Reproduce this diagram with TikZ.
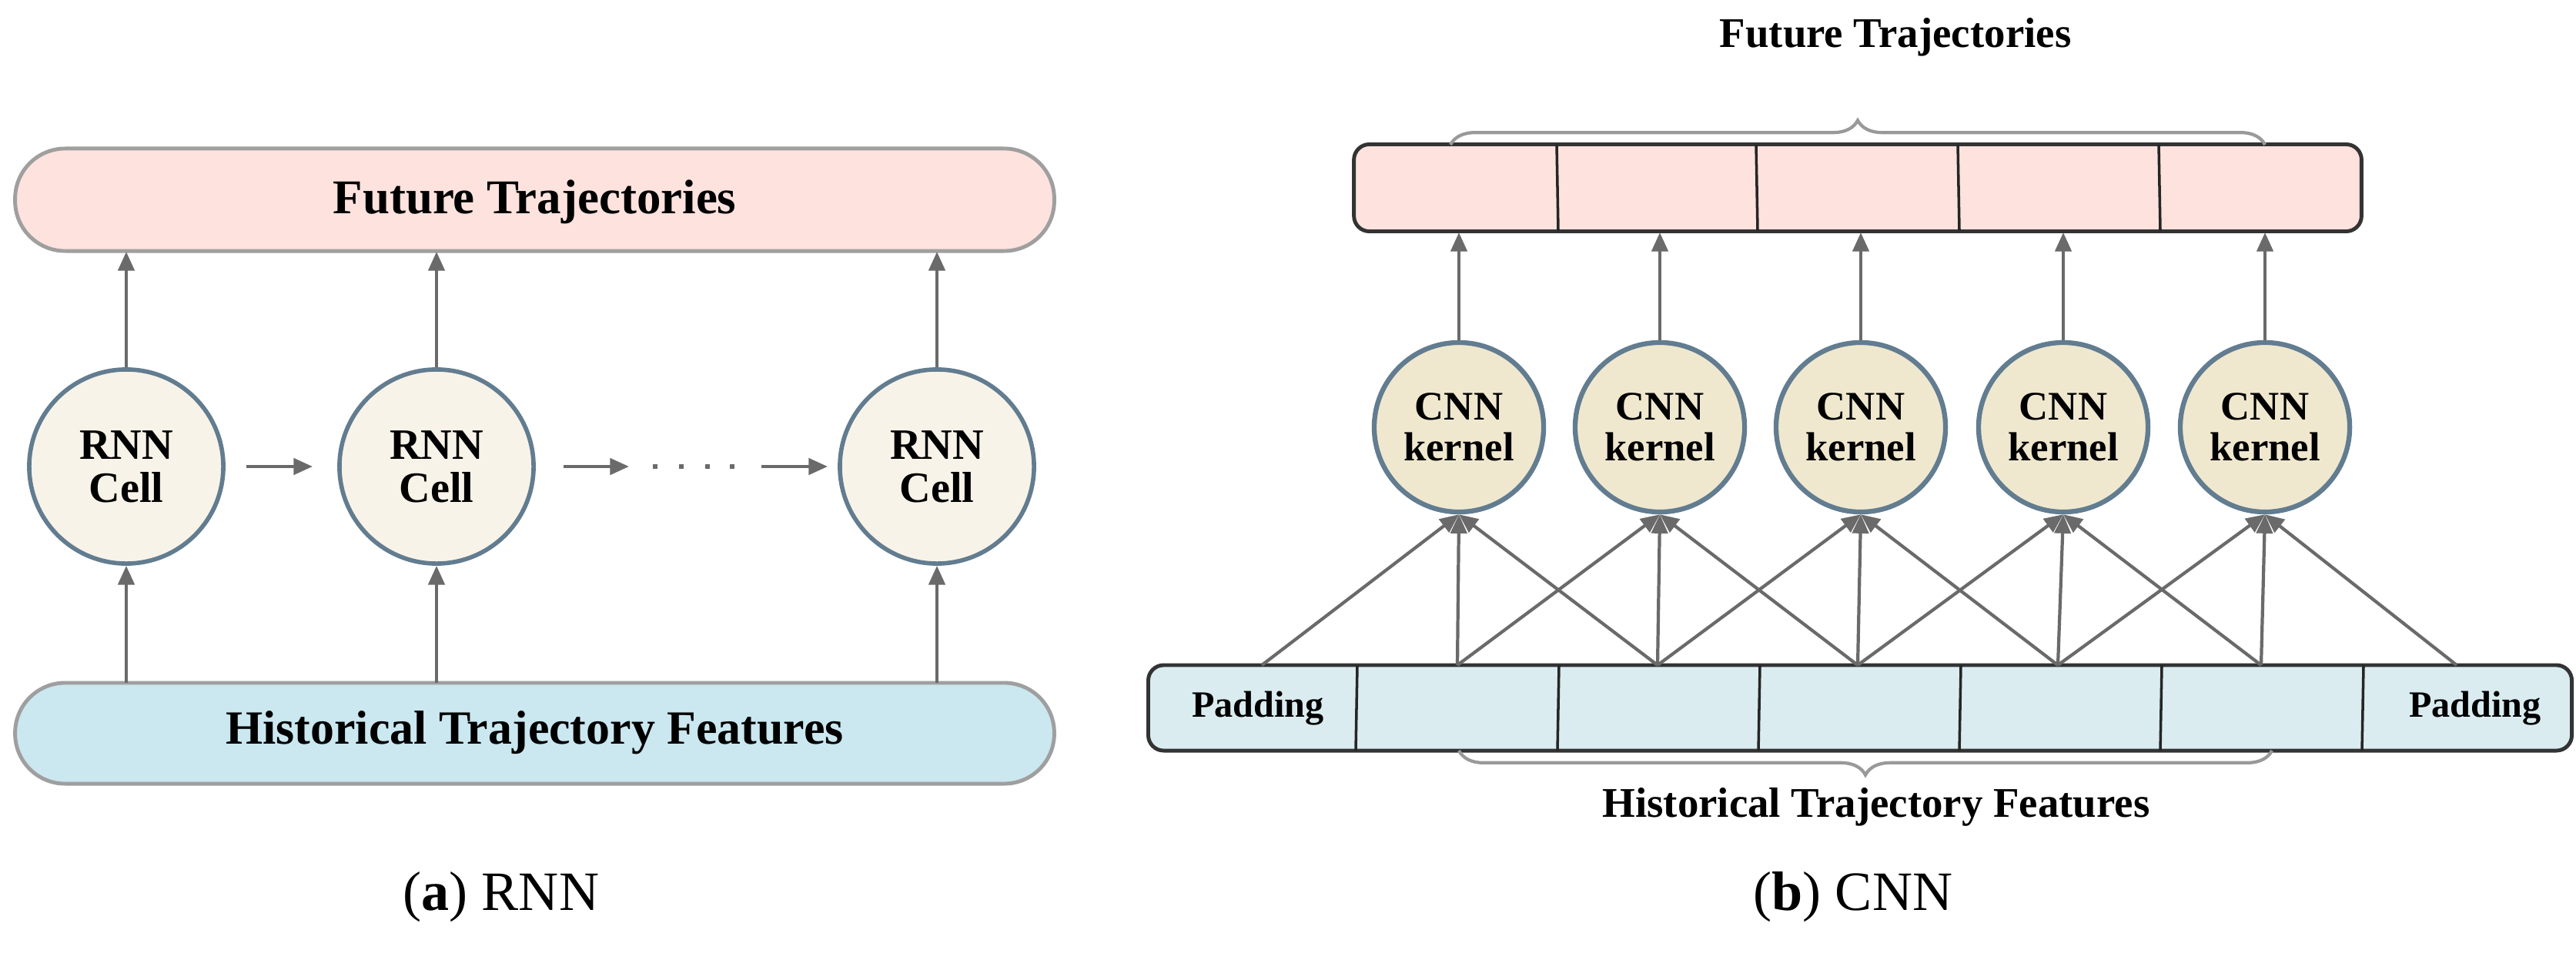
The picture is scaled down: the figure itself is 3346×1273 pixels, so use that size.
\documentclass[tikz,border=0pt]{standalone}
\usepackage{fontspec}
\setmainfont{Liberation Serif}
\usetikzlibrary{arrows.meta,decorations.pathreplacing}
\definecolor{pinkf}{HTML}{FDE2DD}
\definecolor{bluef}{HTML}{CBE7EF}
\definecolor{bluef2}{HTML}{DAECF0}
\definecolor{cellf}{HTML}{F8F3E8}
\definecolor{kernf}{HTML}{EFE8CF}
\definecolor{circd}{HTML}{627C90}
\definecolor{arr}{HTML}{6A6A6A}
\newcommand{\fs}[1]{\fontsize{#1}{#1}\selectfont\bfseries}
\begin{document}
\begin{tikzpicture}[x=0.01cm,y=-0.01cm,
  ar/.style={draw=arr,line width=1.2pt,-{Triangle[length=7pt,width=6pt]}},
  ln/.style={draw=arr,line width=1.2pt},
  cell/.style={circle,draw=circd,line width=1.6pt,fill=cellf,minimum size=2.52cm,align=center,font=\fs{16pt},inner sep=0pt},
  kern/.style={circle,draw=circd,line width=1.8pt,fill=kernf,minimum size=2.2cm,align=center,font=\fs{15pt},inner sep=0pt},
  pill/.style={draw=gray!75,line width=1.4pt,rounded corners=0.65cm,inner sep=0pt},
  brc/.style={draw=gray!80,line width=1.2pt,decorate,decoration={brace,amplitude=9pt}}]
\useasboundingbox (0,0) rectangle (3346,1273);
% ---- (a) RNN
\node[pill,fill=pinkf,minimum width=13.49cm,minimum height=1.33cm] (ft) at (694.5,259.5) {};
\node[font=\fs{17.9pt}] at (694.5,262) {Future Trajectories};
\node[pill,fill=bluef,minimum width=13.49cm,minimum height=1.31cm] (ht) at (694.5,952.5) {};
\node[font=\fs{17.6pt}] at (694.5,952) {Historical Trajectory Features};
\node[cell] (c1) at (164,606) {RNN\\Cell};
\node[cell] (c2) at (567,606) {RNN\\Cell};
\node[cell] (c3) at (1217,606) {RNN\\Cell};
\foreach \c/\x in {c1/164,c2/567,c3/1217}{
  \coordinate (b\c) at (\x,887); \coordinate (t\c) at (\x,327);
  \draw[ar] (b\c) -- (\c.south);
  \draw[ar] (\c.north) -- (t\c);}
\coordinate (h1) at (320,606); \coordinate (h2) at (406,606);
\coordinate (h3) at (732,606); \coordinate (h4) at (817,606);
\coordinate (h5) at (989,606); \coordinate (h6) at (1075,606);
\draw[ar] (h1) -- (h2); \draw[ar] (h3) -- (h4); \draw[ar] (h5) -- (h6);
\foreach \x in {851,885,919,951} \fill[arr] (\x-3,603) rectangle (\x+3,609);
\node[font=\fontsize{20.5pt}{20.5pt}\selectfont] at (651,1165) {(\textbf{a}) RNN};
% ---- (b) CNN
\node[draw=black!80,line width=1.4pt,rounded corners=0.2cm,fill=pinkf,minimum width=13.08cm,minimum height=1.13cm,inner sep=0pt] (fb) at (2413,244) {};
\foreach \x in {2022,2281,2543,2804} \draw[black!85,line width=1pt] (\x,188) -- (\x+2,300);
\node[draw=black!80,line width=1.4pt,rounded corners=0.2cm,fill=bluef2,minimum width=18.48cm,minimum height=1.11cm,inner sep=0pt] (hb) at (2416,919.5) {};
\foreach \x in {1763,2025,2286,2547,2808,3070} \draw[black!85,line width=1pt] (\x,864) -- (\x-2,975);
\node[font=\fs{13.7pt}] at (1634,920) {Padding};
\node[font=\fs{13.7pt}] at (3215,920) {Padding};
\draw[brc] (1884,188) -- (2942,188);
\draw[brc] (2951,975) -- (1895,975);
\node[font=\fs{15.6pt}] at (2462,48) {Future Trajectories};
\node[font=\fs{15.6pt}] at (2437,1048) {Historical Trajectory Features};
\foreach \i/\x in {0/1639,1/1893,2/2153,3/2413,4/2673,5/2937,6/3191} \coordinate (p\i) at (\x,864);
\foreach \i/\x in {1/1895,2/2156,3/2417,4/2680,5/2942}{
  \node[kern] (k\i) at (\x,555) {CNN\\kernel};
  \coordinate (o\i) at (\x,302);
  \draw[ar] (k\i.north) -- (o\i);}
\foreach \i/\a/\b in {1/0/2,2/1/3,3/2/4,4/3/5,5/4/6}{
  \draw[ar] (p\a) -- (k\i.south);
  \draw[ar] (p\i) -- (k\i.south);
  \draw[ar] (p\b) -- (k\i.south);}
\node[font=\fontsize{20.5pt}{20.5pt}\selectfont] at (2407,1165) {(\textbf{b}) CNN};
\end{tikzpicture}
\end{document}
